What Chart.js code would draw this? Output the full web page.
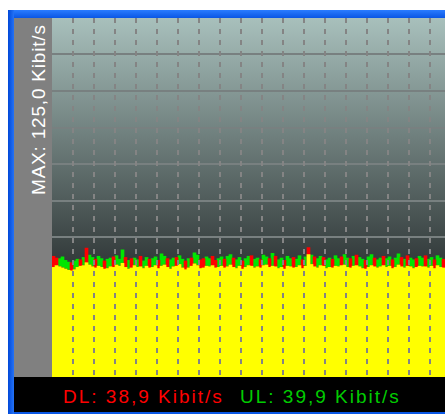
<!DOCTYPE html>
<html>
<head>
<meta charset="utf-8">
<script src="https://cdn.jsdelivr.net/npm/chart.js@4.4.1/dist/chart.umd.min.js"></script>
<style>
  html, body { margin: 0; padding: 0; background: #fff; overflow: hidden; width: 445px; height: 414px; }
  #frame { position: absolute; left: 8px; top: 10px; width: 437px; height: 404px; background: #0a58e6; }
  #topEdge { position: absolute; left: 8px; top: 10px; width: 437px; height: 8px; background: linear-gradient(to bottom, #2a7cff, #0a56e4); }
  #leftEdge { position: absolute; left: 8px; top: 10px; width: 6px; height: 404px; background: linear-gradient(to right, #0048d8, #2472f6); }
  #strip { position: absolute; left: 14px; top: 18px; width: 38px; height: 359px; background: #808080; }
  #plot { position: absolute; left: 52px; top: 18px; width: 393px; height: 365px; }
  #status { position: absolute; left: 14px; top: 377px; width: 431px; height: 35px; background: #000; }
  .txt { position: absolute; font-family: "Liberation Sans", Arial, sans-serif; font-size: 19px; line-height: 19px; white-space: nowrap; }
  #maxLabel { left: 29px; top: 195px; color: #fff; letter-spacing: 0.8px; transform-origin: 0 0; transform: rotate(-90deg); }
  #dlLabel { left: 63px; top: 387px; color: #ff0000; letter-spacing: 2px; }
  #ulLabel { left: 240px; top: 387px; color: #00cc00; letter-spacing: 2px; }
</style>
</head>
<body>
<div id="frame"></div>
<div id="topEdge"></div>
<div id="leftEdge"></div>
<div id="strip"></div>
<div id="plot"><canvas id="trafficChart"></canvas></div>
<div id="status"></div>
<div class="txt" id="maxLabel"></div>
<div class="txt" id="dlLabel"></div>
<div class="txt" id="ulLabel"></div>
<script>
// scale and current rates (Kibit/s)
const maxRate = 125;
const currentDL = '38,9';
const currentUL = '39,9';

// download samples, one per column, oldest on the left
const dlValues = [
    43.4, 42.8, 39.8, 39.4, 39.0, 38.6, 41.2, 38.8, 39.6, 42.2, 40.2, 46.2, 40.4, 39.8, 42.4, 40.0, 39.6,
    41.8, 39.2, 39.8, 43.2, 40.4, 40.0, 41.0, 43.0, 39.0, 42.6, 40.2, 39.6, 43.4, 39.2, 40.0, 42.4,
    39.6, 40.2, 42.0, 40.0, 40.4, 42.6, 39.0, 39.8, 43.0, 40.6, 39.4, 41.8, 39.4, 42.8, 40.8, 40.2,
    42.2, 42.6, 40.0, 39.8, 43.4, 42.0, 39.6, 40.0, 42.4, 39.8, 40.4, 42.8, 39.2, 40.0, 41.8, 39.6, 40.2,
    43.6, 39.4, 39.8, 42.2, 40.2, 40.4, 42.6, 40.0, 43.4, 39.2, 39.6, 42.0, 40.0, 39.8, 43.0, 39.6,
    40.2, 42.2, 40.0, 46.4, 40.6, 43.2, 39.4, 40.2, 43.0, 39.2, 39.6, 42.4, 40.0, 39.8, 43.2, 40.4, 39.6,
    42.6, 40.0, 43.8, 39.8, 39.2, 42.0, 39.6, 40.2, 42.8, 39.4, 39.8, 43.4, 39.6, 40.0, 42.2, 39.6,
    40.4, 43.0, 39.4, 43.6, 39.8, 39.2, 42.6, 40.0, 39.8, 43.6, 39.4, 40.0, 42.2, 40.2, 39.6, 42.4
];

// upload samples
const ulValues = [
    39.6, 40.2, 42.6, 43.2, 42.0, 41.4, 38.4, 41.8, 42.4, 40.0, 43.0, 41.2, 43.8, 43.0, 39.4, 43.4, 42.6,
    39.0, 42.4, 42.8, 39.6, 43.6, 42.4, 45.6, 39.6, 42.0, 39.4, 42.8, 42.2, 39.8, 41.8, 43.0, 39.4,
    42.6, 43.2, 39.2, 44.2, 43.4, 39.6, 42.2, 42.8, 40.0, 43.6, 42.4, 38.8, 42.6, 40.0, 44.6, 43.8,
    39.2, 39.4, 43.2, 42.6, 40.2, 39.4, 42.6, 43.2, 39.4, 43.4, 44.0, 39.6, 42.2, 43.0, 39.0, 42.6, 43.4,
    40.0, 42.4, 42.8, 39.4, 43.8, 43.2, 39.6, 44.4, 39.8, 42.2, 42.8, 39.0, 43.4, 42.6, 39.4, 42.4,
    43.6, 39.2, 43.2, 44.0, 43.8, 39.8, 42.6, 43.4, 40.0, 42.2, 42.8, 39.4, 43.6, 42.6, 40.2, 44.0, 42.8,
    39.4, 43.4, 40.2, 43.0, 42.4, 39.0, 43.2, 44.0, 39.8, 42.2, 42.8, 40.2, 42.6, 43.2, 39.2, 42.8,
    44.2, 39.8, 42.4, 40.0, 42.8, 42.2, 39.6, 43.4, 42.8, 39.8, 42.4, 43.0, 39.2, 43.6, 42.8, 39.4
];

document.getElementById('maxLabel').textContent = 'MAX: ' + maxRate.toFixed(1).replace('.', ',') + ' Kibit/s';
document.getElementById('dlLabel').textContent = 'DL: ' + currentDL + ' Kibit/s';
document.getElementById('ulLabel').textContent = 'UL: ' + currentUL + ' Kibit/s';

let sampleLabels = dlValues.map((v, i) => String(i));
// where both directions overlap the meter shows yellow
let bothValues = dlValues.map((v, i) => Math.min(v, ulValues[i]));

const backdrop = {
    id: 'backdrop',
    beforeDraw(chart) {
        const {ctx, chartArea} = chart;
        const g = ctx.createLinearGradient(0, chartArea.top, 0, chartArea.bottom);
        g.addColorStop(0, 'rgb(168, 192, 188)');
        g.addColorStop(0.66, 'rgb(52, 60, 60)');
        g.addColorStop(1, 'rgb(52, 60, 60)');
        ctx.save();
        ctx.fillStyle = g;
        ctx.fillRect(chartArea.left, chartArea.top, chartArea.width, chartArea.height);
        ctx.restore();
    }
};

new Chart(document.getElementById('trafficChart'), {
    type: 'bar',
    data: {
        labels: sampleLabels,
        datasets: [{
            label: 'DL+UL',
            data: bothValues,
            backgroundColor: '#ffff00',
            order: 0
        }, {
            label: 'DL',
            data: dlValues,
            backgroundColor: '#ff0000',
            order: 1
        }, {
            label: 'UL',
            data: ulValues,
            backgroundColor: '#00e600',
            order: 2
        }]
    },
    options: {
        responsive: true,
        maintainAspectRatio: false,
        animation: false,
        layout: { padding: 0 },
        datasets: {
            bar: {
                grouped: false,
                barPercentage: 1,
                categoryPercentage: 1,
                borderWidth: 0
            }
        },
        plugins: {
            legend: { display: false },
            tooltip: { enabled: false }
        },
        scales: {
            x: {
                display: false
            },
            // time grid, dashed lines drawn over the fill
            xg: {
                type: 'linear',
                position: 'bottom',
                min: 0.046,
                max: 17.646,
                border: { display: false, dash: [5, 6] },
                ticks: { display: false, stepSize: 1, maxTicksLimit: 30, includeBounds: false },
                grid: {
                    z: 1,
                    drawTicks: false,
                    color: 'rgb(132, 132, 132)',
                    lineWidth: 2
                },
                afterFit(scale) { scale.height = 0; }
            },
            y: {
                min: 0,
                max: maxRate,
                border: { display: false },
                ticks: { display: false, stepSize: 12.5 },
                grid: {
                    drawTicks: false,
                    lineWidth: 2,
                    color: function(context) {
                        if (context.tick.value === 0 || context.tick.value === maxRate) return 'rgba(0,0,0,0)';
                        return 'rgb(120, 128, 128)';
                    }
                },
                afterFit(scale) { scale.width = 0; }
            }
        }
    },
    plugins: [backdrop]
});
</script>
</body>
</html>
